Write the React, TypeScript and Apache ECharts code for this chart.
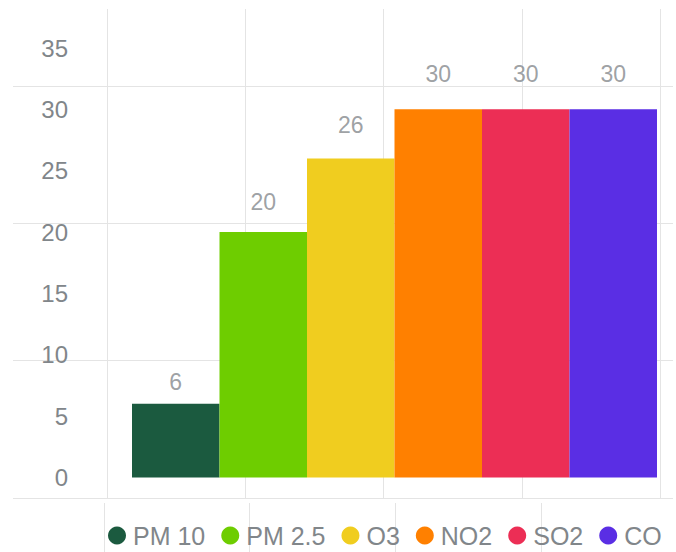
import React, { useEffect, useRef } from "react";
import * as echarts from "echarts";

const categories = ["PM 10", "PM 2.5", "O3", "NO2", "SO2", "CO"];
const values = [6, 20, 26, 30, 30, 30];
const colors = ["#1b5a3f", "#6ecd00", "#f0cd1f", "#ff8000", "#ec2e55", "#5a2ee4"];
const yTicks = [0, 5, 10, 15, 20, 25, 30, 35];

const FONT = "'Liberation Sans', Arial, sans-serif";
const TEXT = "#81868a";
const GRID = "#e4e4e4";

export default function App() {
  const ref = useRef<HTMLDivElement>(null);
  useEffect(() => {
    document.body.style.margin = "0";
    const chart = echarts.init(ref.current!, null, { renderer: "svg" });
    const hidden = { show: false };
    const barSeries = categories.map((name, i) => ({
      name,
      type: "bar",
      xAxisIndex: 0,
      yAxisIndex: 0,
      barGap: "-100%",
      barCategoryGap: 0,
      itemStyle: { color: colors[i] },
      data: categories.map((_, j) => (j === i ? values[i] : "-")),
      z: 5,
    }));
    const option: any = {
      animation: false,
      color: colors,
      legend: {
        data: categories,
        left: 108,
        top: 523,
        padding: 0,
        icon: "circle",
        itemWidth: 18,
        itemHeight: 18,
        itemGap: 16,
        textStyle: { fontFamily: FONT, fontSize: 25, color: TEXT, padding: [0, 0, 0, 2] },
      },
      grid: [
        { left: 132, top: 48, width: 525, height: 429.5 },
        { left: 132, top: 10, width: 525, height: 449 },
        { left: 13, top: 86, width: 660, height: 412 },
        { left: 107, top: 9, width: 553, height: 490 },
        { left: 104, top: 503, width: 437, height: 60 },
      ],
      xAxis: [
        { gridIndex: 0, type: "category", data: categories, axisLine: hidden, axisTick: hidden, axisLabel: hidden, splitLine: hidden },
        { gridIndex: 1, type: "category", data: categories, axisLine: hidden, axisTick: hidden, axisLabel: hidden, splitLine: hidden },
        { gridIndex: 2, type: "value", min: 0, max: 1, axisLine: hidden, axisTick: hidden, axisLabel: hidden, splitLine: hidden },
        {
          gridIndex: 3, type: "value", min: 0, max: 4, interval: 1,
          axisLine: hidden, axisTick: hidden, axisLabel: hidden,
          splitLine: { show: true, showMinLine: true, showMaxLine: true, lineStyle: { color: GRID, width: 1 } },
        },
        {
          gridIndex: 4, type: "value", min: 0, max: 3, interval: 1,
          axisLine: hidden, axisTick: hidden, axisLabel: hidden,
          splitLine: { show: true, showMinLine: true, showMaxLine: true, lineStyle: { color: GRID, width: 1 } },
        },
      ],
      yAxis: [
        {
          gridIndex: 0, type: "value", min: yTicks[0], max: yTicks[yTicks.length - 1], interval: 5,
          axisLine: hidden, axisTick: hidden, splitLine: hidden,
          axisLabel: { show: true, margin: 64, fontFamily: FONT, fontSize: 24, color: TEXT },
        },
        { gridIndex: 1, type: "value", min: 0, max: 35, axisLine: hidden, axisTick: hidden, axisLabel: hidden, splitLine: hidden },
        {
          gridIndex: 2, type: "value", min: 0, max: 3, interval: 1,
          axisLine: hidden, axisTick: hidden, axisLabel: hidden,
          splitLine: { show: true, showMinLine: true, showMaxLine: true, lineStyle: { color: GRID, width: 1 } },
        },
        { gridIndex: 3, type: "value", min: 0, max: 1, axisLine: hidden, axisTick: hidden, axisLabel: hidden, splitLine: hidden },
        { gridIndex: 4, type: "value", min: 0, max: 1, axisLine: hidden, axisTick: hidden, axisLabel: hidden, splitLine: hidden },
      ],
      series: [
        ...barSeries,
        {
          type: "scatter",
          xAxisIndex: 1,
          yAxisIndex: 1,
          symbolSize: 0,
          silent: true,
          data: values.map((v, i) => [i, v]),
          label: {
            show: true,
            position: "inside",
            formatter: (p: any) => String(p.value[1]),
            fontFamily: FONT,
            fontSize: 23,
            color: "#85898d",
          },
          z: 6,
        },
      ],
    };
    chart.setOption(option);
    return () => chart.dispose();
  }, []);
  return <div ref={ref} style={{ width: 676, height: 552 }} />;
}
